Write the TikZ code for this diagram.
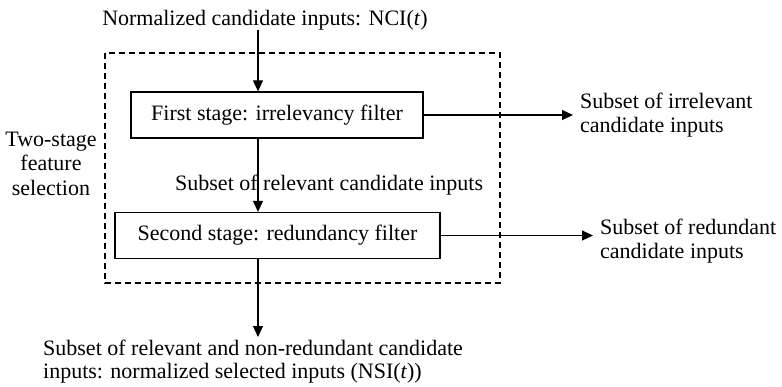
\documentclass[tikz,border=0pt]{standalone}
\usepackage{fontspec}
\setmainfont{Liberation Serif}
\usetikzlibrary{arrows.meta}
\begin{document}
\begin{tikzpicture}[x=1pt,y=-1pt,
  txt/.style={font=\fontsize{22}{24.5}\selectfont, inner sep=0pt},
  stagebox/.style={draw, line width=1.3pt, minimum height=46pt, inner sep=0pt, font=\fontsize{22}{24.5}\selectfont},
  conn/.style={line width=1.1pt, -{Triangle[length=11pt,width=10pt]}}]
\useasboundingbox (0,0) rectangle (782,386);
\draw[dashed, line width=1.1pt, dash pattern=on 6pt off 4pt] (105,53) rectangle (500,283);
\node[txt, anchor=base] (top) at (265,25) {Normalized candidate inputs: NCI(\textit{t})};
\node[stagebox, minimum width=292pt] (s1) at (277,115) {First stage: irrelevancy filter};
\node[stagebox, minimum width=325pt] (s2) at (277.5,235.5) {Second stage: redundancy filter};
\node[txt, align=center, anchor=north] (two) at (51,131.5) {Two-stage\\feature\\selection};
\node[txt, anchor=base west] (rel) at (175,190) {Subset of relevant candidate inputs};
\node[txt, align=left, anchor=north west] (irr) at (580,92.5) {Subset of irrelevant\\candidate inputs};
\node[txt, align=left, anchor=north west] (red) at (600,218.5) {Subset of redundant\\candidate inputs};
\node[txt, align=left, anchor=north west, font=\fontsize{22}{23.5}\selectfont] (out) at (43,339.5) {Subset of relevant and non-redundant candidate\\inputs: normalized selected inputs (NSI(\textit{t}))};
\coordinate (c1) at (258,30);
\coordinate (c2) at (258,337);
\draw[conn] (c1) -- (s1.north -| c1);
\draw[conn] (s1.south -| c1) -- (s2.north -| c1);
\draw[conn] (s2.south -| c1) -- (c2);
\draw[conn] (s1.east) -- ([xshift=-7pt]irr.west |- s1.east);
\draw[conn] (s2.east) -- ([xshift=-7pt]red.west |- s2.east);
\end{tikzpicture}
\end{document}
